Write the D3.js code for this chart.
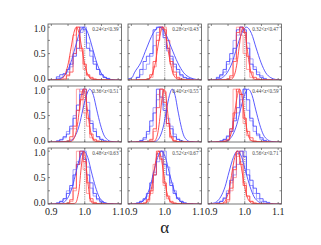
<!DOCTYPE html>
<html><head><meta charset="utf-8">
<script src="https://cdn.jsdelivr.net/npm/d3@7"></script>
<style>body{margin:0;background:#fff}svg{display:block}</style>
</head><body><svg id="c" width="321" height="245"></svg>
<script>
// ---------- data ----------
const panelLabels = ["0.24<z<0.39","0.28<z<0.43","0.32<z<0.47","0.36<z<0.51","0.40<z<0.55","0.44<z<0.59","0.48<z<0.63","0.52<z<0.67","0.56<z<0.71"];
const xTicks = [0.9, 1.0, 1.1];
const xTickLabels = ["0.9","1.0","1.1"];
const yTicks = [0, 0.5, 1.0];
const yTickLabels = ["0.0","0.5","1.0"];
const xLabel = "α";
// histogram bin centres (width 0.01)
const binCenters = [0.92,0.93,0.94,0.95,0.96,0.97,0.98,0.99,1.00,1.01,1.02,1.03,1.04,1.05,1.06,1.07,1.08];
const blueHistA = [
 [0.06,0.10,0.12,0.20,0.30,0.45,0.60,1.00,0.95,0.60,0.55,0.30,0.20,0.10,0.05,0.03,0.00],
 [0.05,0.20,0.35,0.45,0.50,0.95,1.00,1.00,0.80,0.60,0.45,0.30,0.20,0.10,0.05,0.03,0.02],
 [0.05,0.10,0.20,0.35,0.50,0.60,0.95,1.00,0.95,0.60,0.30,0.20,0.10,0.05,0.02,0.00,0.00],
 [0.02,0.04,0.10,0.15,0.30,0.45,0.70,0.90,1.00,0.60,0.35,0.20,0.10,0.05,0.02,0.00,0.00],
 [0.00,0.03,0.08,0.20,0.40,0.55,1.00,0.85,0.60,0.35,0.25,0.10,0.05,0.02,0.00,0.00,0.00],
 [0.00,0.02,0.05,0.10,0.20,0.40,0.65,0.90,1.00,0.80,0.45,0.30,0.15,0.08,0.03,0.00,0.00],
 [0.02,0.05,0.10,0.20,0.35,0.55,0.75,1.00,0.85,0.55,0.40,0.20,0.10,0.05,0.02,0.00,0.00],
 [0.02,0.05,0.10,0.20,0.40,0.55,0.95,1.00,0.75,0.55,0.35,0.20,0.10,0.05,0.02,0.00,0.00],
 [0.02,0.05,0.10,0.20,0.45,0.70,0.95,1.00,0.90,0.55,0.45,0.30,0.20,0.10,0.05,0.03,0.00]
];
const blueHistB = [
 [0.03,0.05,0.10,0.15,0.25,0.50,0.75,0.90,1.00,0.70,0.45,0.35,0.20,0.10,0.05,0.02,0.00],
 [0.05,0.10,0.20,0.30,0.45,0.65,0.90,1.00,0.85,0.55,0.40,0.25,0.15,0.08,0.04,0.02,0.00],
 [0.03,0.08,0.15,0.30,0.40,0.75,0.85,1.00,0.90,0.70,0.40,0.25,0.15,0.08,0.03,0.00,0.00],
 [0.02,0.05,0.08,0.20,0.25,0.50,0.60,1.00,0.95,0.75,0.40,0.25,0.10,0.05,0.02,0.00,0.00],
 [0.00,0.02,0.05,0.15,0.30,0.65,0.80,1.00,0.70,0.45,0.30,0.15,0.05,0.02,0.00,0.00,0.00],
 [0.00,0.02,0.05,0.12,0.25,0.45,0.55,0.80,1.00,0.60,0.40,0.20,0.12,0.05,0.02,0.00,0.00],
 [0.02,0.05,0.10,0.25,0.30,0.65,0.80,0.95,1.00,0.70,0.30,0.15,0.08,0.03,0.00,0.00,0.00],
 [0.02,0.05,0.08,0.15,0.30,0.60,0.80,0.90,1.00,0.70,0.40,0.25,0.12,0.05,0.02,0.00,0.00],
 [0.02,0.05,0.12,0.25,0.40,0.55,0.75,0.80,1.00,0.65,0.35,0.20,0.10,0.05,0.02,0.00,0.00]
];
const redHistA = [
 [0.00,0.00,0.02,0.08,0.15,0.50,1.00,0.60,0.30,0.10,0.05,0.02,0.00,0.00,0.00,0.00,0.00],
 [0.00,0.00,0.00,0.02,0.10,0.35,0.75,1.00,0.95,0.75,0.35,0.15,0.05,0.02,0.00,0.00,0.00],
 [0.00,0.00,0.00,0.02,0.08,0.35,0.90,1.00,0.90,0.45,0.15,0.05,0.02,0.00,0.00,0.00,0.00],
 [0.00,0.00,0.00,0.02,0.10,0.30,0.60,0.80,1.00,0.45,0.15,0.05,0.02,0.00,0.00,0.00,0.00],
 [0.00,0.00,0.00,0.00,0.05,0.25,0.65,1.00,0.75,0.35,0.10,0.03,0.00,0.00,0.00,0.00,0.00],
 [0.00,0.00,0.02,0.05,0.25,0.55,1.00,0.90,0.45,0.20,0.08,0.02,0.00,0.00,0.00,0.00,0.00],
 [0.00,0.00,0.00,0.02,0.08,0.30,0.75,1.00,0.80,0.40,0.10,0.03,0.00,0.00,0.00,0.00,0.00],
 [0.00,0.00,0.02,0.08,0.25,0.55,1.00,0.85,0.40,0.15,0.05,0.02,0.00,0.00,0.00,0.00,0.00],
 [0.00,0.00,0.02,0.08,0.30,0.65,1.00,0.75,0.35,0.15,0.05,0.02,0.00,0.00,0.00,0.00,0.00]
];
const redHistB = [
 [0.00,0.00,0.00,0.10,0.45,0.85,1.00,0.55,0.20,0.08,0.03,0.00,0.00,0.00,0.00,0.00,0.00],
 [0.00,0.00,0.00,0.00,0.05,0.25,0.85,1.00,1.00,0.60,0.30,0.10,0.03,0.00,0.00,0.00,0.00],
 [0.00,0.00,0.00,0.00,0.05,0.40,1.00,0.85,0.50,0.20,0.05,0.00,0.00,0.00,0.00,0.00,0.00],
 [0.00,0.00,0.00,0.00,0.05,0.25,1.00,0.95,0.55,0.30,0.08,0.02,0.00,0.00,0.00,0.00,0.00],
 [0.00,0.00,0.00,0.00,0.03,0.20,0.90,1.00,0.95,0.30,0.08,0.00,0.00,0.00,0.00,0.00,0.00],
 [0.00,0.00,0.00,0.03,0.20,1.00,0.95,0.70,0.35,0.12,0.03,0.00,0.00,0.00,0.00,0.00,0.00],
 [0.00,0.00,0.00,0.00,0.05,0.25,1.00,0.95,0.65,0.20,0.05,0.00,0.00,0.00,0.00,0.00,0.00],
 [0.00,0.00,0.00,0.05,0.20,0.75,0.90,1.00,0.35,0.10,0.03,0.00,0.00,0.00,0.00,0.00,0.00],
 [0.00,0.00,0.00,0.05,0.25,0.50,0.90,1.00,0.40,0.15,0.05,0.00,0.00,0.00,0.00,0.00,0.00]
];
// smooth fitted curves: [alpha, normalised value]
const blueCurves = [
 [[0.89,0],[0.919,0.011],[0.932,0.044],[0.945,0.135],[0.958,0.325],[0.971,0.607],[0.984,0.882],[0.997,1],[1.010,0.882],[1.023,0.607],[1.036,0.325],[1.049,0.135],[1.062,0.044],[1.075,0.011],[1.11,0]],
 [[0.89,0.02],[0.902,0.044],[0.909,0.135],[0.928,0.325],[0.946,0.607],[0.965,0.882],[0.983,1],[1.002,0.882],[1.020,0.607],[1.039,0.325],[1.057,0.135],[1.076,0.044],[1.094,0.011],[1.11,0]],
 [[0.89,0],[0.918,0.011],[0.933,0.044],[0.947,0.135],[0.962,0.325],[0.976,0.607],[0.991,0.882],[1.005,1],[1.020,0.882],[1.034,0.607],[1.049,0.325],[1.063,0.135],[1.078,0.044],[1.092,0.011],[1.11,0]],
 [[0.89,0],[0.952,0.011],[0.963,0.044],[0.973,0.135],[0.984,0.325],[0.994,0.607],[1.005,0.882],[1.015,1],[1.026,0.882],[1.036,0.607],[1.047,0.325],[1.057,0.135],[1.068,0.044],[1.078,0.011],[1.11,0]],
 [[0.89,0],[0.971,0.011],[0.980,0.044],[0.988,0.135],[0.997,0.325],[1.005,0.607],[1.014,0.882],[1.022,1],[1.031,0.882],[1.039,0.607],[1.048,0.325],[1.056,0.135],[1.065,0.044],[1.073,0.011],[1.11,0]],
 [[0.89,0],[0.941,0.011],[0.953,0.044],[0.964,0.135],[0.976,0.325],[0.987,0.607],[0.999,0.882],[1.010,1],[1.022,0.882],[1.033,0.607],[1.045,0.325],[1.056,0.135],[1.068,0.044],[1.079,0.011],[1.11,0]],
 [[0.89,0],[0.928,0.011],[0.940,0.044],[0.951,0.135],[0.963,0.325],[0.974,0.607],[0.986,0.882],[0.997,1],[1.009,0.882],[1.020,0.607],[1.032,0.325],[1.043,0.135],[1.055,0.044],[1.066,0.011],[1.11,0]],
 [[0.89,0],[0.921,0.011],[0.933,0.044],[0.944,0.135],[0.956,0.325],[0.967,0.607],[0.979,0.882],[0.990,1],[1.002,0.882],[1.013,0.607],[1.025,0.325],[1.036,0.135],[1.048,0.044],[1.059,0.011],[1.11,0]],
 [[0.89,0],[0.903,0.011],[0.916,0.044],[0.928,0.135],[0.941,0.325],[0.953,0.607],[0.966,0.882],[0.978,1],[0.991,0.882],[1.003,0.607],[1.016,0.325],[1.028,0.135],[1.041,0.044],[1.053,0.011],[1.11,0]]
];
const redCurves = [
 [[0.89,0],[0.927,0.011],[0.935,0.044],[0.943,0.135],[0.951,0.325],[0.959,0.607],[0.967,0.882],[0.975,1],[0.983,0.882],[0.991,0.607],[0.999,0.325],[1.007,0.135],[1.015,0.044],[1.023,0.011],[1.11,0]],
 [[0.89,0],[0.949,0.011],[0.957,0.044],[0.964,0.135],[0.972,0.325],[0.979,0.607],[0.987,0.882],[0.994,1],[1.002,0.882],[1.009,0.607],[1.017,0.325],[1.024,0.135],[1.032,0.044],[1.039,0.011],[1.11,0]],
 [[0.89,0],[0.959,0.011],[0.965,0.044],[0.971,0.135],[0.977,0.325],[0.983,0.607],[0.989,0.882],[0.995,1],[1.001,0.882],[1.007,0.607],[1.013,0.325],[1.019,0.135],[1.025,0.044],[1.031,0.011],[1.11,0]],
 [[0.89,0],[0.960,0.011],[0.966,0.044],[0.972,0.135],[0.978,0.325],[0.984,0.607],[0.990,0.882],[0.996,1],[1.002,0.882],[1.008,0.607],[1.014,0.325],[1.020,0.135],[1.026,0.044],[1.032,0.011],[1.11,0]],
 [[0.89,0],[0.968,0.011],[0.973,0.044],[0.978,0.135],[0.983,0.325],[0.988,0.607],[0.993,0.882],[0.998,1],[1.003,0.882],[1.008,0.607],[1.013,0.325],[1.018,0.135],[1.023,0.044],[1.028,0.011],[1.11,0]],
 [[0.89,0],[0.945,0.011],[0.952,0.044],[0.958,0.135],[0.965,0.325],[0.971,0.607],[0.978,0.882],[0.984,1],[0.991,0.882],[0.997,0.607],[1.004,0.325],[1.010,0.135],[1.017,0.044],[1.023,0.011],[1.11,0]],
 [[0.89,0],[0.970,0.011],[0.975,0.044],[0.979,0.135],[0.984,0.325],[0.988,0.607],[0.993,0.882],[0.997,1],[1.002,0.882],[1.006,0.607],[1.011,0.325],[1.015,0.135],[1.020,0.044],[1.024,0.011],[1.11,0]],
 [[0.89,0],[0.940,0.011],[0.947,0.044],[0.954,0.135],[0.961,0.325],[0.968,0.607],[0.975,0.882],[0.982,1],[0.989,0.882],[0.996,0.607],[1.003,0.325],[1.010,0.135],[1.017,0.044],[1.024,0.011],[1.11,0]],
 [[0.89,0],[0.932,0.011],[0.940,0.044],[0.947,0.135],[0.955,0.325],[0.962,0.607],[0.970,0.882],[0.977,1],[0.985,0.882],[0.992,0.607],[1.000,0.325],[1.007,0.135],[1.015,0.044],[1.022,0.011],[1.11,0]]
];

// ---------- layout ----------
const colLeft = [48, 128, 208];
const rowTop = [24, 86, 148];
const pw = 73.5, ph = 56;
const binW = 0.01;
const serif = "'Liberation Serif','DejaVu Serif',serif";

const svg = d3.select("#c");

panelLabels.forEach((lab, i) => {
  const r = Math.floor(i / 3), c = i % 3;
  const g = svg.append("g").attr("transform", `translate(${colLeft[c]},${rowTop[r]})`);
  const x = d3.scaleLinear().domain([0.89, 1.11]).range([0, pw]);
  const y = d3.scaleLinear().domain([0, 1.06]).range([ph, 0]);

  const clipId = "clip" + i;
  g.append("clipPath").attr("id", clipId).append("rect").attr("width", pw).attr("height", ph);
  const plot = g.append("g").attr("clip-path", `url(#${clipId})`);

  const stepLine = d3.line().x(d => x(d[0])).y(d => y(d[1]));
  const histPts = vals => {
    const pts = [[binCenters[0] - binW / 2, 0]];
    vals.forEach((v, k) => {
      pts.push([binCenters[k] - binW / 2, v]);
      pts.push([binCenters[k] + binW / 2, v]);
    });
    pts.push([binCenters[binCenters.length - 1] + binW / 2, 0]);
    return pts;
  };
  const curveLine = d3.line().x(d => x(d[0])).y(d => y(d[1])).curve(d3.curveMonotoneX);

  // dotted reference line at alpha = 1
  plot.append("line").attr("x1", x(1)).attr("x2", x(1)).attr("y1", 0).attr("y2", ph)
    .attr("stroke", "#666").attr("stroke-width", 0.8).attr("stroke-dasharray", "1,1.2");

  plot.append("path").attr("d", stepLine(histPts(blueHistB[i]))).attr("fill", "none")
    .attr("stroke", "#7070ff").attr("stroke-width", 0.9).attr("opacity", 0.7);
  plot.append("path").attr("d", stepLine(histPts(redHistB[i]))).attr("fill", "none")
    .attr("stroke", "#ff7a7a").attr("stroke-width", 0.9).attr("opacity", 0.75);
  plot.append("path").attr("d", stepLine(histPts(blueHistA[i]))).attr("fill", "none")
    .attr("stroke", "#3c3cff").attr("stroke-width", 0.9).attr("opacity", 0.85);
  plot.append("path").attr("d", stepLine(histPts(redHistA[i]))).attr("fill", "none")
    .attr("stroke", "#ff3c3c").attr("stroke-width", 0.9).attr("opacity", 0.85);
  plot.append("path").attr("d", curveLine(blueCurves[i])).attr("fill", "none")
    .attr("stroke", "#4848ff").attr("stroke-width", 0.9);
  plot.append("path").attr("d", curveLine(redCurves[i])).attr("fill", "none")
    .attr("stroke", "#ff3a3a").attr("stroke-width", 0.9);

  // frame
  g.append("rect").attr("width", pw).attr("height", ph).attr("fill", "none")
    .attr("stroke", "#555").attr("stroke-width", 0.8);

  // inward ticks (all four sides)
  const xt = [0.9, 0.95, 1.0, 1.05, 1.1];
  const yt = [0, 0.25, 0.5, 0.75, 1.0];
  const tk = g.append("g").attr("stroke", "#555").attr("stroke-width", 0.7);
  xt.forEach(v => {
    tk.append("line").attr("x1", x(v)).attr("x2", x(v)).attr("y1", ph).attr("y2", ph - 2);
    tk.append("line").attr("x1", x(v)).attr("x2", x(v)).attr("y1", 0).attr("y2", 2);
  });
  yt.forEach(v => {
    tk.append("line").attr("x1", 0).attr("x2", 2).attr("y1", y(v)).attr("y2", y(v));
    tk.append("line").attr("x1", pw).attr("x2", pw - 2).attr("y1", y(v)).attr("y2", y(v));
  });

  // panel label
  g.append("text").attr("x", pw - 3).attr("y", 7).attr("text-anchor", "end")
    .attr("font-family", serif).attr("font-size", 5.2).attr("fill", "#444").text(lab);

  if (c === 0) {
    // small nudges keep stacked "0.0"/"1.0" labels of adjacent rows from colliding
    const nudge = [-1.4, 0, 1.6];
    yTicks.forEach((v, k) => {
      g.append("text").attr("x", -2.5).attr("y", y(v) + nudge[k]).attr("dy", "0.35em").attr("text-anchor", "end")
        .attr("font-family", serif).attr("font-size", 9.5).attr("fill", "#222").text(yTickLabels[k]);
    });
  }
  if (r === 2) {
    xTicks.forEach((v, k) => {
      g.append("text").attr("x", x(v)).attr("y", ph + 11).attr("text-anchor", "middle")
        .attr("font-family", serif).attr("font-size", 10).attr("fill", "#222").text(xTickLabels[k]);
    });
  }
});

svg.append("text").attr("x", colLeft[1] + pw / 2).attr("y", 233).attr("text-anchor", "middle")
  .attr("font-family", serif).attr("font-size", 17).attr("fill", "#222").text(xLabel);
</script>
</body></html>
